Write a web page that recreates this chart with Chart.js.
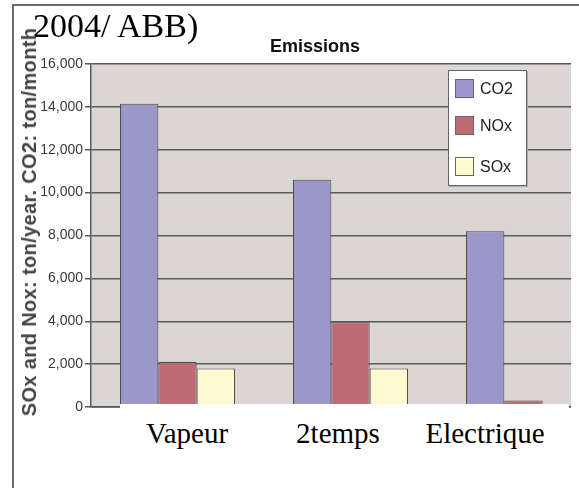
<!DOCTYPE html>
<html>
<head>
<meta charset="utf-8">
<script src="https://cdn.jsdelivr.net/npm/chart.js@4/dist/chart.umd.min.js"></script>
<style>
  html, body { margin: 0; padding: 0; background: #fff; }
  body { width: 579px; height: 488px; position: relative; overflow: hidden; font-family: "Liberation Sans", Arial, sans-serif; }
  #frame { position: absolute; left: 12px; top: 4px; width: 620px; height: 520px; border-top: 2px solid #6b6b6b; border-left: 2px solid #6b6b6b; }
  #clip { position: absolute; left: 0; top: 0; width: 571px; height: 488px; overflow: hidden; }
  #chart { position: absolute; left: 0; top: 0; }
  #note { position: absolute; left: 33px; top: 9px; font: 34px/34px "Liberation Serif", "Times New Roman", serif; color: #000; white-space: nowrap; }
  #title { position: absolute; left: 315px; top: 37px; transform: translateX(-50%); font: bold 18px/18px "Liberation Sans", Arial, sans-serif; color: #111; white-space: nowrap; }
  #ytitle { position: absolute; left: 29px; top: 222px; transform: translate(-50%, -50%) rotate(-90deg); font: bold 20px/20px "Liberation Sans", Arial, sans-serif; letter-spacing: 0.35px; color: #444; white-space: nowrap; }
  #legend { position: absolute; left: 448px; top: 70px; width: 77px; height: 114px; background: #fff; border: 1px solid #666; box-shadow: 1px 1px 0 #aaa; }
  .item { position: absolute; left: 6px; height: 18px; }
  .swatch { position: absolute; left: 0; top: 0; width: 17px; height: 17px; border: 1px solid #666; }
  .label { position: absolute; left: 25px; top: 0; font: 16px/19px "Liberation Sans", Arial, sans-serif; color: #222; white-space: nowrap; }
  #cover { position: absolute; left: 120px; top: 404px; width: 449px; height: 84px; background: #fff; }
  .cat { position: absolute; top: 419px; transform: translateX(-50%); font: 29px/29px "Liberation Serif", "Times New Roman", serif; color: #000; white-space: nowrap; }
</style>
</head>
<body>
<div id="frame"></div>
<div id="clip"><canvas id="chart" width="640" height="430"></canvas></div>
<div id="note">2004/ ABB)</div>
<div id="title">Emissions</div>
<div id="ytitle">SOx and Nox: ton/year. CO2: ton/month</div>
<div id="legend"></div>
<div id="cover"></div>

<script>
// =====================
// DATA
// =====================
const categories = ["Vapeur", "2temps", "Electrique"];
const seriesNames = ["CO2", "NOx", "SOx"];
const co2 = [14150, 10600, 8200];
const nox = [2100, 3950, 300];
const sox = [1800, 1800, 0];
const yTicks = [0, 2000, 4000, 6000, 8000, 10000, 12000, 14000, 16000];

// =====================
// STYLE
// =====================
const colors = ["#9d97c9", "#bd6c76", "#fdf9d1"];
const catLabelX = [187, 338, 485];
const legendTops = [8, 45, 86];

// =====================
// CHART
// =====================
const plotBg = {
  id: "plotBg",
  beforeDraw(chart) {
    const a = chart.chartArea;
    const ctx = chart.ctx;
    ctx.save();
    ctx.fillStyle = "#dbd6d3";
    ctx.fillRect(a.left, a.top, a.right - a.left, a.bottom - a.top + 1);
    ctx.restore();
  }
};

const chart = new Chart(document.getElementById("chart"), {
  type: "bar",
  data: {
    labels: categories,
    datasets: [co2, nox, sox].map((d, i) => ({
      label: seriesNames[i],
      data: d,
      backgroundColor: colors[i],
      borderColor: "#4a4a4a",
      borderWidth: 1,
      categoryPercentage: 0.665,
      barPercentage: 1
    }))
  },
  options: {
    responsive: false,
    animation: false,
    devicePixelRatio: 1,
    layout: { padding: { top: 64, bottom: 23, left: 0, right: 30 } },
    plugins: { legend: { display: false }, tooltip: { enabled: false } },
    scales: {
      x: {
        ticks: { display: false },
        grid: { display: false },
        border: { display: true, color: "#555", width: 1.5 },
        afterFit: s => { s.height = 0; }
      },
      y: {
        min: 0,
        max: 16000,
        afterFit: s => { s.width = 91; },
        afterBuildTicks: s => { s.ticks = yTicks.map(v => ({ value: v })); },
        ticks: {
          padding: 2,
          color: "#3a3a3a",
          font: { family: "'Liberation Sans', Arial", size: 14 },
          callback: v => v.toLocaleString("en-US")
        },
        grid: { color: "#5a5a5a", lineWidth: 1.5, tickLength: 6 },
        border: { color: "#5a5a5a", width: 1.5 }
      }
    }
  },
  plugins: [plotBg]
});

// =====================
// LEGEND + LABELS
// =====================
const legend = document.getElementById("legend");
chart.data.datasets.forEach((ds, i) => {
  const item = document.createElement("div");
  item.className = "item";
  item.style.top = legendTops[i] + "px";
  item.innerHTML = `<div class="swatch" style="background:${ds.backgroundColor}"></div><div class="label">${ds.label}</div>`;
  legend.appendChild(item);
});

categories.forEach((c, i) => {
  const el = document.createElement("div");
  el.className = "cat";
  el.style.left = catLabelX[i] + "px";
  el.textContent = c;
  document.body.appendChild(el);
});
</script>
</body>
</html>
